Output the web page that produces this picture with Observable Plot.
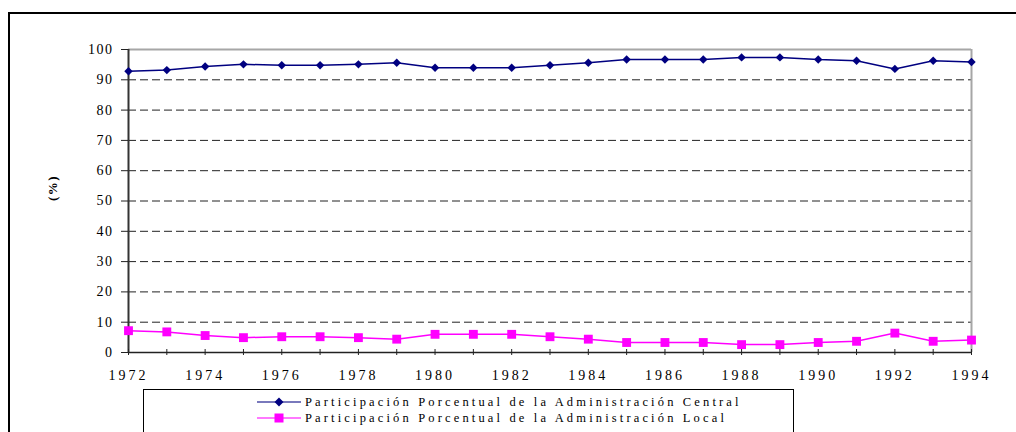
<!DOCTYPE html>
<html>
<head>
<meta charset="utf-8">
<script src="https://cdn.jsdelivr.net/npm/d3@7"></script>
<script src="https://cdn.jsdelivr.net/npm/@observablehq/plot@0.6"></script>
<style>
  body { margin: 0; background: #fff; }
  #wrap { position: relative; width: 1016px; height: 432px; overflow: hidden; background: #fff; }
  #frame { position: absolute; left: 8px; top: 12px; width: 1100px; height: 600px; border: 2px solid #000; box-sizing: border-box; }
  #plot { position: absolute; left: 0; top: 0; }
  .chart text { letter-spacing: 1.5px; }
  .chart .xlab text { letter-spacing: 3px; }
  #legend { position: absolute; left: 143px; top: 389px; width: 651px; height: 80px; border: 1px solid #000; box-sizing: border-box; font-family: "Liberation Serif", serif; font-size: 12.5px; letter-spacing: 3.15px; color: #000; }
  .item { position: absolute; left: 113px; height: 16px; display: flex; align-items: center; white-space: nowrap; }
  .item svg { margin-right: 4px; }
</style>
</head>
<body>
<div id="wrap">
  <div id="frame"></div>
  <div id="plot"></div>
  <div id="legend"></div>
</div>
<script>
const years = [1972,1973,1974,1975,1976,1977,1978,1979,1980,1981,1982,1983,1984,1985,1986,1987,1988,1989,1990,1991,1992,1993,1994];
const central = [92.8,93.2,94.4,95.1,94.8,94.8,95.1,95.6,94.0,94.0,94.0,94.8,95.6,96.7,96.7,96.7,97.4,97.4,96.7,96.3,93.6,96.3,95.9];
const local = [7.2,6.8,5.6,4.9,5.2,5.2,4.9,4.4,6.0,6.0,6.0,5.2,4.4,3.3,3.3,3.3,2.6,2.6,3.3,3.7,6.4,3.7,4.1];
const seriesNames = ["Participación Porcentual de la Administración Central", "Participación Porcentual de la Administración Local"];
const yTicks = [0,10,20,30,40,50,60,70,80,90,100];
const xLabels = [1972,1974,1976,1978,1980,1982,1984,1986,1988,1990,1992,1994];
const yLabel = "(%)";

const colors = ["#000080", "#FF00FF"];
const centralData = years.map((y, i) => ({year: y, value: central[i]}));
const localData = years.map((y, i) => ({year: y, value: local[i]}));

const chart = Plot.plot({
  width: 1016,
  height: 388,
  marginLeft: 128,
  marginRight: 45,
  marginTop: 49,
  marginBottom: 36,
  className: "chart",
  style: {fontFamily: "'Liberation Serif', serif", fontSize: "14px", color: "#000", background: "transparent"},
  x: {domain: [years[0], years[years.length - 1]]},
  y: {domain: [0, 100]},
  marks: [
    Plot.gridY(yTicks.filter(d => d > 0 && d < 100), {stroke: "#222", strokeOpacity: 1, strokeDasharray: "8,4"}),
    Plot.ruleY([100], {stroke: "#a6a6a6", strokeWidth: 2}),
    Plot.ruleX([years[years.length - 1]], {stroke: "#a6a6a6", strokeWidth: 2}),
    Plot.ruleY([0], {stroke: "#222", strokeWidth: 1.5}),
    Plot.ruleX([years[0]], {stroke: "#333", strokeWidth: 2}),
    Plot.axisY({ticks: yTicks, tickSize: 7, tickPadding: 8, label: null, stroke: "#222", tickFormat: d => d}),
    Plot.axisX({ticks: years, tickSize: 6, dy: -3, tickFormat: () => "", label: null, stroke: "#222"}),
    Plot.axisX({ticks: xLabels, tickSize: 0, tickPadding: 18, label: null, tickFormat: d => String(d), className: "xlab"}),
    Plot.text([yLabel], {frameAnchor: "left", dx: -76, rotate: -90, fontWeight: "bold", fontSize: 13, text: d => d}),
    Plot.line(centralData, {x: "year", y: "value", stroke: colors[0], strokeWidth: 1.5}),
    Plot.dot(centralData, {x: "year", y: "value", symbol: "diamond2", r: 3.8, fill: colors[0], stroke: null}),
    Plot.line(localData, {x: "year", y: "value", stroke: colors[1], strokeWidth: 1.5}),
    Plot.dot(localData, {x: "year", y: "value", symbol: "square", r: 5, fill: colors[1], stroke: null})
  ]
});
document.getElementById("plot").appendChild(chart);

const legend = document.getElementById("legend");
seriesNames.forEach((name, i) => {
  const item = document.createElement("div");
  item.className = "item";
  item.style.top = (i === 0 ? 4 : 20) + "px";
  const marker = i === 0
    ? `<polygon points="22,1.5 26.5,6 22,10.5 17.5,6" fill="${colors[0]}"/>`
    : `<rect x="17.5" y="1.5" width="9" height="9" fill="${colors[1]}"/>`;
  item.innerHTML = `<svg width="44" height="12"><line x1="0" x2="44" y1="6" y2="6" stroke="${colors[i]}" stroke-width="1.5" stroke-opacity="0.7"/>${marker}</svg><span>${name}</span>`;
  legend.appendChild(item);
});
</script>
</body>
</html>
